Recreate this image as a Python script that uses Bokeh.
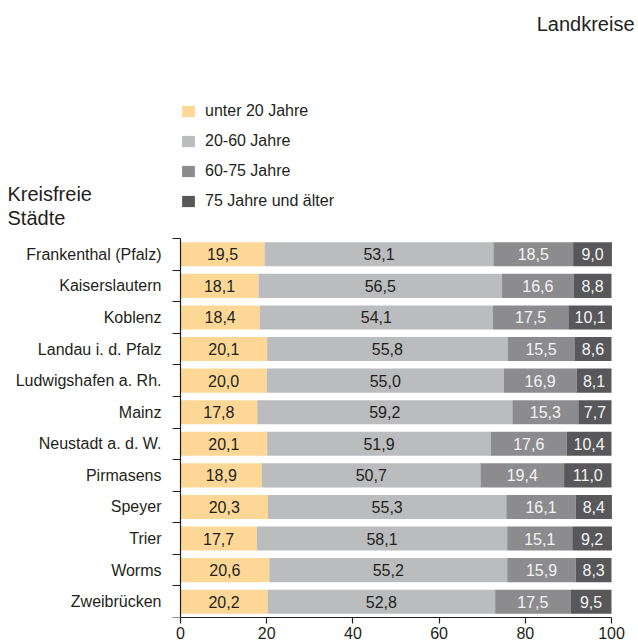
from bokeh.plotting import figure
from bokeh.models import ColumnDataSource, Range1d, FixedTicker, Legend, LegendItem, Label
from bokeh.core.properties import value
from bokeh.embed import file_html
from bokeh.resources import INLINE

# ---- data ----
cities = ["Frankenthal (Pfalz)", "Kaiserslautern", "Koblenz", "Landau i. d. Pfalz",
          "Ludwigshafen a. Rh.", "Mainz", "Neustadt a. d. W.", "Pirmasens",
          "Speyer", "Trier", "Worms", "Zweibrücken"]
under_20 = [19.5, 18.1, 18.4, 20.1, 20.0, 17.8, 20.1, 18.9, 20.3, 17.7, 20.6, 20.2]
age_20_60 = [53.1, 56.5, 54.1, 55.8, 55.0, 59.2, 51.9, 50.7, 55.3, 58.1, 55.2, 52.8]
age_60_75 = [18.5, 16.6, 17.5, 15.5, 16.9, 15.3, 17.6, 19.4, 16.1, 15.1, 15.9, 17.5]
age_75_plus = [9.0, 8.8, 10.1, 8.6, 8.1, 7.7, 10.4, 11.0, 8.4, 9.2, 8.3, 9.5]
series_names = ["unter 20 Jahre", "20-60 Jahre", "60-75 Jahre", "75 Jahre und älter"]
x_ticks = [0, 20, 40, 60, 80, 100]

# ---- style / layout ----
FONT = "Liberation Sans"
TEXT = "#231F20"
colors = ["#FDD796", "#BBBCBE", "#8C8C8E", "#58585A"]
label_colors = [TEXT, TEXT, "#F4F4F4", "#F4F4F4"]

W, H = 638, 643
AX_LEFT, AX_RIGHT = 180, 611      # pixel position of x = 0 and x = 100
AX_TOP, AX_BOTTOM = 238, 617      # pixel position of first and last category boundary
n = len(cities)
XS = (AX_RIGHT - AX_LEFT) / 100.0
YS = (AX_BOTTOM - AX_TOP) / n


def X(px):
    return (px - AX_LEFT) / XS


def Y(py):
    return (py - AX_TOP) / YS


rows = [i + 0.5 for i in range(n)]

p = figure(width=W, height=H,
           x_range=Range1d(X(0), X(W)), y_range=Range1d(n, Y(0)),
           output_backend="svg", toolbar_location=None,
           min_border_left=0, min_border_right=0, min_border_top=0,
           min_border_bottom=H - AX_BOTTOM)
p.outline_line_color = None
p.grid.visible = False
p.background_fill_color = "white"
p.border_fill_color = "white"

series = [under_20, age_20_60, age_60_75, age_75_plus]
left = [0.0] * n
renderers = []
for k, vals in enumerate(series):
    right = [l + v for l, v in zip(left, vals)]
    src = ColumnDataSource(dict(
        y=rows, left=left, right=right,
        mid=[(l + r) / 2 for l, r in zip(left, right)],
        lab=[f"{v:.1f}".replace(".", ",") for v in vals]))
    r = p.hbar(y="y", left="left", right="right", height=0.76, source=src,
               fill_color=colors[k], line_color=None)
    p.text(x="mid", y="y", text="lab", source=src, text_align="center",
           text_baseline="middle", text_color=label_colors[k],
           text_font=value(FONT), text_font_size=value("16px"))
    renderers.append(r)
    left = right

# y axis drawn at x = 0
p.yaxis.fixed_location = 0
p.yaxis.bounds = (0, n)
p.yaxis.ticker = FixedTicker(ticks=rows, minor_ticks=list(range(n + 1)))
p.yaxis.major_label_overrides = {r: c for r, c in zip(rows, cities)}
p.yaxis.major_tick_out = 0
p.yaxis.major_tick_in = 0
p.yaxis.minor_tick_out = 8
p.yaxis.minor_tick_in = 0
p.yaxis.minor_tick_line_color = TEXT
p.yaxis.minor_tick_line_width = 1.2
p.yaxis.major_label_standoff = 11

p.xaxis.bounds = (0, 100)
p.xaxis.ticker = FixedTicker(ticks=x_ticks)
p.xaxis.major_tick_out = 6
p.xaxis.major_tick_in = 0
p.xaxis.major_tick_line_color = TEXT
p.xaxis.major_tick_line_width = 1.2
p.xaxis.minor_tick_line_color = None
p.xaxis.major_label_standoff = 3

for ax in (p.xaxis, p.yaxis):
    ax.axis_label = None
    ax.axis_label_standoff = 0
    ax.axis_line_color = TEXT
    ax.axis_line_width = 1.2
    ax.major_label_text_font = FONT
    ax.major_label_text_font_size = "16px"
    ax.major_label_text_color = TEXT

# legend (screen units relative to the frame's bottom-left corner)
legend = Legend(items=[LegendItem(label=nm, renderers=[r]) for nm, r in zip(series_names, renderers)],
                location=(AX_LEFT, AX_BOTTOM - 211), orientation="vertical",
                glyph_width=16, glyph_height=14, label_standoff=9, label_height=20,
                spacing=10, padding=0, margin=0, border_line_color=None,
                background_fill_alpha=0, label_text_font=FONT,
                label_text_font_size="16px", label_text_color=TEXT)
p.add_layout(legend)

p.add_layout(Label(x=X(7), y=Y(193), text="Kreisfreie", text_font=FONT, text_font_size="20px",
                   text_color=TEXT, text_baseline="middle", text_align="left"))
p.add_layout(Label(x=X(7), y=Y(217), text="Städte", text_font=FONT, text_font_size="20px",
                   text_color=TEXT, text_baseline="middle", text_align="left"))
p.add_layout(Label(x=X(634), y=Y(23), text="Landkreise", text_font=FONT, text_font_size="20px",
                   text_color=TEXT, text_baseline="middle", text_align="right"))

open("out.html", "w").write(file_html(p, INLINE))
